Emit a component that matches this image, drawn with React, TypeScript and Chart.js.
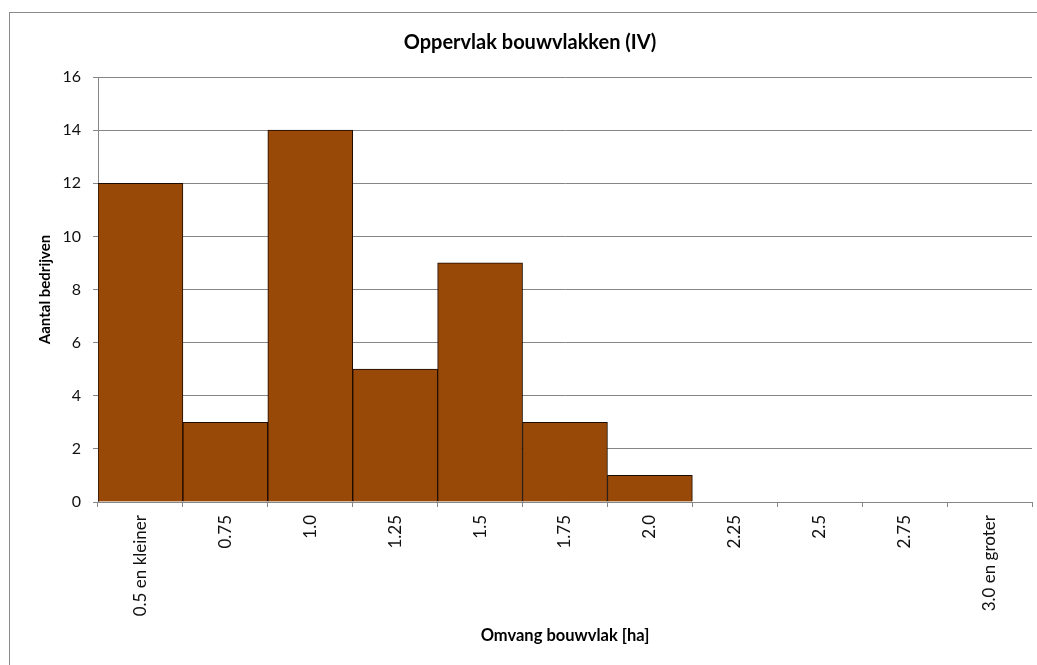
import React, { useEffect, useRef } from "react";
import { Chart, registerables } from "chart.js";

Chart.register(...registerables);

const categories: string[] = [
  "0.5 en kleiner",
  "0.75",
  "1.0",
  "1.25",
  "1.5",
  "1.75",
  "2.0",
  "2.25",
  "2.5",
  "2.75",
  "3.0 en groter",
];
const counts: number[] = [12, 3, 14, 5, 9, 3, 1, 0, 0, 0, 0];
const yMin = 0;
const yMax = 16;
const yStep = 2;

const titleText = "Oppervlak bouwvlakken (IV)";
const xTitle = "Omvang bouwvlak [ha]";
const yTitle = "Aantal bedrijven";

const FONT = "Lato, 'Open Sans', 'DejaVu Sans', sans-serif";
const GRID = "#868686";

export default function App() {
  const ref = useRef<HTMLCanvasElement | null>(null);

  useEffect(() => {
    if (!ref.current) return;
    const chart = new Chart(ref.current, {
      type: "bar",
      data: {
        labels: categories,
        datasets: [
          {
            data: counts,
            backgroundColor: "#984807",
            borderColor: "#1a0a00",
            borderWidth: 1,
            barPercentage: 1,
            categoryPercentage: 1,
          },
        ],
      },
      options: {
        responsive: false,
        animation: false,
        layout: { padding: { left: 28, right: 5, top: 0, bottom: 15 } },
        plugins: {
          legend: { display: false },
          tooltip: { enabled: false },
          title: {
            display: true,
            text: titleText,
            color: "#000",
            font: { family: FONT, size: 20, weight: "bold" },
            padding: { top: 31, bottom: 22 },
          },
        },
        scales: {
          x: {
            afterFit: (s: any) => {
              s.height = 148;
            },
            grid: {
              display: true,
              drawOnChartArea: false,
              drawTicks: true,
              tickLength: 5,
              color: GRID,
              offset: true,
            },
            border: { color: GRID },
            ticks: {
              autoSkip: false,
              minRotation: 90,
              maxRotation: 90,
              padding: 8,
              color: "#111",
              font: { family: FONT, size: 17 },
            },
            title: {
              display: true,
              text: xTitle,
              color: "#000",
              font: { family: FONT, size: 16.5, weight: "bold" },
              padding: { top: 4, bottom: 4 },
            },
          },
          y: {
            min: yMin,
            max: yMax,
            afterFit: (s: any) => {
              s.width = 70;
            },
            grid: {
              color: GRID,
              tickLength: 5,
              drawTicks: true,
            },
            border: { color: GRID },
            ticks: {
              stepSize: yStep,
              padding: 12,
              color: "#111",
              font: { family: FONT, size: 16 },
            },
            title: {
              display: true,
              text: yTitle,
              color: "#000",
              font: { family: FONT, size: 15, weight: "bold" },
              padding: { top: 8, bottom: 0 },
            },
          },
        },
      },
    });
    return () => chart.destroy();
  }, []);

  return (
    <div
      style={{
        position: "fixed",
        left: 0,
        top: 0,
        width: 1037,
        height: 665,
        overflow: "hidden",
        background: "#fff",
      }}
    >
      <div
        style={{
          position: "absolute",
          left: 9,
          top: 12,
          width: 1100,
          height: 1000,
          border: "1px solid #8a8a8a",
          boxSizing: "border-box",
        }}
      />
      <canvas
        ref={ref}
        width={1037}
        height={665}
        style={{ position: "absolute", left: 0, top: 0, width: 1037, height: 665 }}
      />
    </div>
  );
}
